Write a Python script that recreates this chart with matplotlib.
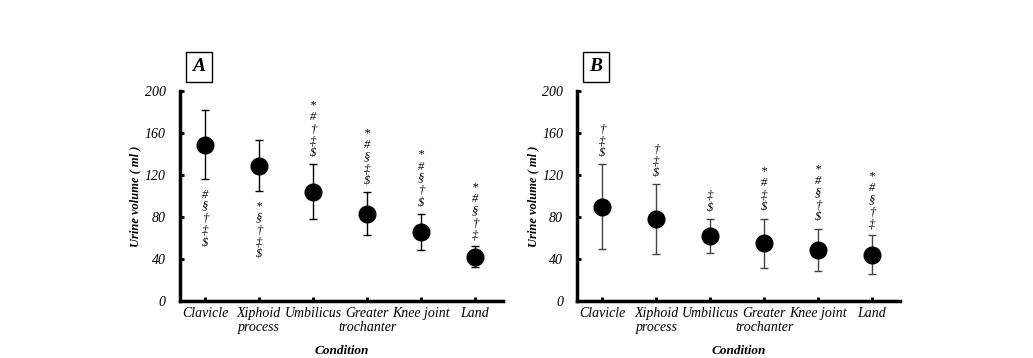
import numpy as np
import matplotlib
matplotlib.use('Agg')
import matplotlib.pyplot as plt

plt.rcParams['font.family'] = ['Liberation Serif', 'DejaVu Serif']

conditions = ['Clavicle', 'Xiphoid\nprocess', 'Umbilicus', 'Greater\ntrochanter', 'Knee joint', 'Land']

mean_a = [149, 129, 104, 83, 66, 42]
err_a = [33, 24, 26, 20.5, 17, 10]
marks_a = ['#\n§\n†\n‡\n$', '*\n§\n†\n‡\n$', '*\n#\n†\n‡\n$', '*\n#\n§\n‡\n$', '*\n#\n§\n†\n$', '*\n#\n§\n†\n‡']
below_a = [True, True, False, False, False, False]

mean_b = [90, 78, 62, 55, 49, 44]
err_b = [40, 33, 16, 23.5, 20, 18.5]
marks_b = ['†\n‡\n$', '†\n‡\n$', '‡\n$', '*\n#\n‡\n$', '*\n#\n§\n†\n$', '*\n#\n§\n†\n‡']
below_b = [False] * 6

yticks = [0, 40, 80, 120, 160, 200]

fig = plt.figure(figsize=(10.33, 3.58), dpi=100)
ax_a = fig.add_axes([0.174, 0.159, 0.313, 0.587])
ax_b = fig.add_axes([0.5586, 0.159, 0.3126, 0.587])


def draw_panel(ax, mean, err, marks, below, label, ecolor):
    x = np.arange(len(conditions))
    ax.errorbar(x, mean, yerr=err, fmt='o', color='black', ecolor=ecolor,
                elinewidth=1, capsize=3, capthick=1, markersize=12)
    for i in range(len(x)):
        if below[i]:
            ax.text(x[i], mean[i] - err[i] - 9, marks[i], ha='center', va='top',
                    fontsize=9, style='italic', linespacing=1.0)
        else:
            ax.text(x[i], mean[i] + err[i] + 5, marks[i], ha='center', va='bottom',
                    fontsize=9, style='italic', linespacing=1.0)
    ax.set_xlim(-0.47, 5.52)
    ax.set_ylim(0, 200)
    ax.set_yticks(yticks)
    ax.set_xticks(x)
    ax.set_xticklabels(conditions, style='italic', fontsize=10, linespacing=1.1)
    for t in ax.get_yticklabels():
        t.set_fontstyle('italic')
        t.set_fontsize(10)
    ax.spines['top'].set_visible(False)
    ax.spines['right'].set_visible(False)
    ax.spines['left'].set_linewidth(2.5)
    ax.spines['bottom'].set_linewidth(2.5)
    ax.tick_params(axis='both', direction='in', length=3, width=2)
    ax.tick_params(axis='y', pad=10)
    ax.tick_params(axis='x', pad=4)
    ax.set_ylabel('Urine volume ( ml )', style='italic', fontweight='bold', fontsize=9)
    ax.yaxis.set_label_coords(-0.118, 0.5)
    ax.set_xlabel('Condition', style='italic', fontweight='bold', fontsize=9.5)
    ax.xaxis.set_label_coords(0.5, -0.21)
    ax.text(0.059, 1.114, label, transform=ax.transAxes, ha='center', va='center',
            fontsize=14, style='italic', fontweight='bold',
            bbox=dict(boxstyle='square,pad=0.35', facecolor='white', edgecolor='black', linewidth=1))


draw_panel(ax_a, mean_a, err_a, marks_a, below_a, 'A', 'black')
draw_panel(ax_b, mean_b, err_b, marks_b, below_b, 'B', '#444444')

fig.savefig('out.png', dpi=100, facecolor='white')
